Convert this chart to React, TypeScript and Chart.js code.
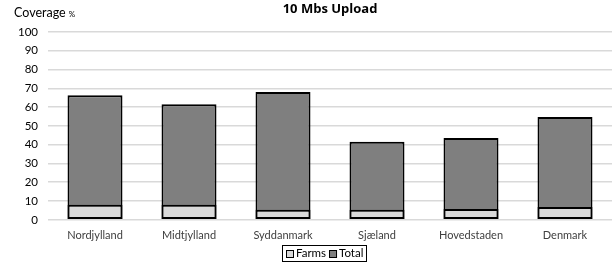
import React, { useEffect, useRef } from "react";
import { Chart, registerables } from "chart.js";

Chart.register(...registerables);

const categories = ["Nordjylland", "Midtjylland", "Syddanmark", "Sjæland", "Hovedstaden", "Denmark"];
const farmsValues = [8.0, 8.0, 5.3, 5.3, 5.7, 6.8];
const totalValues = [66.3, 61.5, 68.1, 41.5, 43.6, 54.8];
const yTicks = [0, 10, 20, 30, 40, 50, 60, 70, 80, 90, 100];
const seriesNames = ["Farms", "Total"];
const seriesColors = ["#d9d9d9", "#7f7f7f"];
const titleText = "10 Mbs Upload";
const yAxisTitle = "Coverage";
const yAxisUnit = "%";

const FONT = "Lato, 'Open Sans', sans-serif";

const extrasPlugin = {
  id: "extras",
  afterDraw(chart: any) {
    const ctx = chart.ctx;
    const area = chart.chartArea;
    ctx.save();
    // y-axis title
    ctx.fillStyle = "#000";
    ctx.textBaseline = "middle";
    ctx.textAlign = "left";
    ctx.font = `12.5px ${FONT}`;
    ctx.fillText(yAxisTitle, 14, 13);
    const w = ctx.measureText(yAxisTitle).width;
    ctx.font = `8px ${FONT}`;
    ctx.fillText(yAxisUnit, 14 + w + 3, 14);
    // chart title
    ctx.font = `bold 13px 'Open Sans', sans-serif`;
    ctx.textAlign = "center";
    ctx.fillText(titleText, (area.left + area.right) / 2, 9);
    // legend
    ctx.font = `11.5px ${FONT}`;
    ctx.textAlign = "left";
    const box = 8;
    const gapText = 2;
    const gapItem = 3;
    const widths = seriesNames.map((n) => ctx.measureText(n).width);
    let total = 0;
    widths.forEach((tw, i) => {
      total += box + gapText + tw + (i < widths.length - 1 ? gapItem : 0);
    });
    const cx = (area.left + area.right) / 2 - 5;
    const cy = 253.5;
    let x = Math.round(cx - total / 2);
    const x0 = x;
    seriesNames.forEach((n, i) => {
      ctx.fillStyle = seriesColors[i];
      ctx.fillRect(x, Math.round(cy - box / 2), box, box);
      ctx.strokeStyle = "#000";
      ctx.lineWidth = 1;
      ctx.strokeRect(x + 0.5, Math.round(cy - box / 2) + 0.5, box - 1, box - 1);
      ctx.fillStyle = "#000";
      ctx.fillText(n, x + box + gapText, cy);
      x += box + gapText + widths[i] + gapItem;
    });
    const x1 = x - gapItem;
    ctx.strokeStyle = "#000";
    ctx.lineWidth = 1;
    ctx.strokeRect(x0 - 4 + 0.5, 245.5, Math.round(x1 - x0 + 7), 16);
    ctx.restore();
  },
};

export default function App() {
  const ref = useRef<HTMLCanvasElement>(null);
  useEffect(() => {
    if (!ref.current) return;
    const chart = new Chart(ref.current, {
      type: "bar",
      data: {
        labels: categories,
        datasets: seriesNames.map((name, i) => ({
          label: name,
          data: i === 0 ? farmsValues : totalValues,
          backgroundColor: seriesColors[i],
          borderColor: "#000",
          borderWidth: 2,
          borderSkipped: false,
        })),
      },
      options: {
        responsive: false,
        animation: false,
        devicePixelRatio: 1,
        layout: { padding: { left: 8, right: 1, top: 32, bottom: 22 } },
        datasets: { bar: { categoryPercentage: 1, barPercentage: 0.585 } },
        scales: {
          x: {
            stacked: true,
            grid: { display: false },
            border: { display: false },
            ticks: { color: "#404040", font: { family: FONT, size: 11 }, padding: 1, maxRotation: 0 },
          },
          y: {
            stacked: false,
            min: 0,
            max: 100,
            afterBuildTicks: (axis: any) => {
              axis.ticks = yTicks.map((v) => ({ value: v }));
            },
            grid: { color: "#d9d9d9", lineWidth: 1.5, drawTicks: false },
            border: { display: false },
            ticks: { color: "#000", font: { family: FONT, size: 11.5 }, padding: 10 },
          },
        },
        plugins: {
          title: { display: false },
          legend: { display: false },
          tooltip: { enabled: false },
        },
      },
      plugins: [extrasPlugin],
    });
    return () => chart.destroy();
  }, []);
  return (
    <div style={{ position: "absolute", left: 0, top: 0, width: 613, height: 265, background: "#fff" }}>
      <canvas ref={ref} width={613} height={265} />
    </div>
  );
}
